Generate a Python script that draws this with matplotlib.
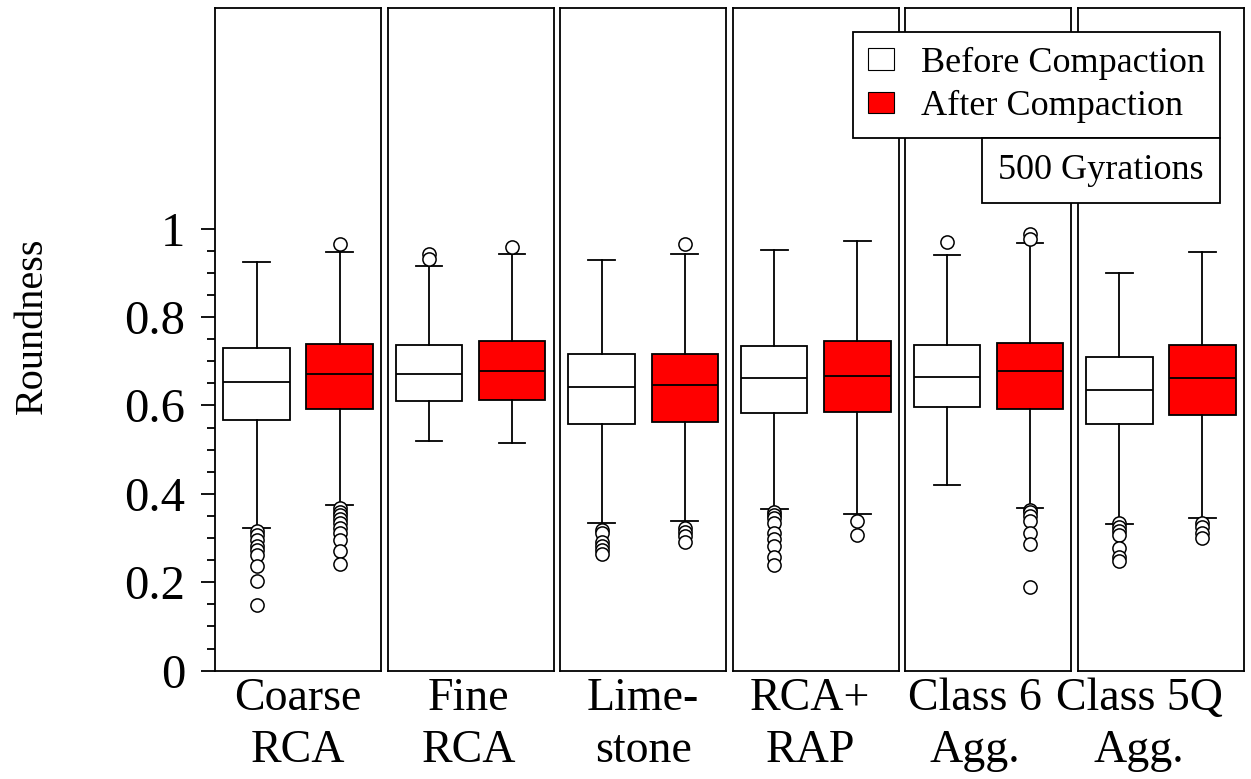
import matplotlib
matplotlib.use("Agg")
import matplotlib.pyplot as plt
from matplotlib.patches import Patch, Rectangle
from matplotlib.ticker import FixedLocator, FixedFormatter

plt.rcParams['font.family'] = ['Liberation Serif', 'DejaVu Serif']

# ---------------- data ----------------
categories = ["Coarse\nRCA", "Fine\nRCA", "Lime-\nstone", "RCA+\nRAP", "Class 6\nAgg.", "Class 5Q\nAgg."]
series_names = ["Before Compaction", "After Compaction"]

before_whislo = [0.322, 0.519, 0.334, 0.365, 0.421, 0.332]
before_q1     = [0.566, 0.610, 0.558, 0.582, 0.596, 0.558]
before_med    = [0.654, 0.671, 0.641, 0.663, 0.665, 0.636]
before_q3     = [0.729, 0.736, 0.717, 0.735, 0.736, 0.709]
before_whishi = [0.925, 0.915, 0.928, 0.951, 0.940, 0.899]
before_fliers = [
    [0.315, 0.307, 0.296, 0.281, 0.273, 0.262, 0.236, 0.202, 0.149],
    [0.943, 0.932],
    [0.319, 0.311, 0.292, 0.282, 0.273, 0.264],
    [0.360, 0.353, 0.345, 0.335, 0.311, 0.298, 0.282, 0.257, 0.238],
    [0.970],
    [0.335, 0.326, 0.317, 0.307, 0.277, 0.258, 0.249],
]

after_whislo = [0.375, 0.514, 0.338, 0.355, 0.368, 0.346]
after_q1     = [0.592, 0.613, 0.563, 0.586, 0.591, 0.578]
after_med    = [0.670, 0.677, 0.646, 0.667, 0.677, 0.661]
after_q3     = [0.738, 0.745, 0.717, 0.745, 0.742, 0.736]
after_whishi = [0.948, 0.943, 0.943, 0.972, 0.967, 0.948]
after_fliers = [
    [0.966, 0.368, 0.360, 0.353, 0.343, 0.334, 0.322, 0.311, 0.296, 0.270, 0.242],
    [0.959],
    [0.966, 0.322, 0.313, 0.304, 0.292],
    [0.338, 0.307],
    [0.987, 0.977, 0.364, 0.358, 0.350, 0.338, 0.311, 0.287, 0.190],
    [0.335, 0.325, 0.311, 0.300],
]

ytick_values = [0, 0.2, 0.4, 0.6, 0.8, 1.0]
ytick_labels = ["0", "0.2", "0.4", "0.6", "0.8", "1"]
annotation = "500 Gyrations"

# ---------------- layout / style ----------------
W, H = 1251, 779
fig = plt.figure(figsize=(W / 100, H / 100), dpi=100)
fig.subplots_adjust(left=215 / W, right=1244 / W, top=1 - 7.5 / H,
                    bottom=1 - 670.7 / H, wspace=6.5 / 166)
axes = fig.subplots(1, 6, sharey=True)

colors = ["white", "#ff0000"]
label_x = [1.0, 0.98, 1.0, 0.93, 0.84, 0.735]
LW = 1.3

for i, ax in enumerate(axes):
    stats = []
    for (lo, q1, med, q3, hi, fl) in [
        (before_whislo[i], before_q1[i], before_med[i], before_q3[i], before_whishi[i], before_fliers[i]),
        (after_whislo[i], after_q1[i], after_med[i], after_q3[i], after_whishi[i], after_fliers[i]),
    ]:
        stats.append(dict(whislo=lo, q1=q1, med=med, q3=q3, whishi=hi, fliers=fl))
    bp = ax.bxp(stats, positions=[0.5, 1.5], widths=0.8, patch_artist=True,
                showfliers=True, capwidths=0.32,
                boxprops=dict(linewidth=LW, edgecolor="black"),
                whiskerprops=dict(linewidth=LW, color="black"),
                capprops=dict(linewidth=LW, color="black"),
                medianprops=dict(linewidth=LW, color="black"),
                flierprops=dict(marker="o", markersize=9.5, markerfacecolor="white",
                                markeredgecolor="black", markeredgewidth=1.1))
    for patch, c in zip(bp["boxes"], colors):
        patch.set_facecolor(c)
    ax.set_xlim(0, 2)
    ax.set_ylim(0, 1.5)
    for sp in ax.spines.values():
        sp.set_linewidth(LW)
        sp.set_color("black")
    ax.set_xticks([label_x[i]])
    ax.set_xticklabels([categories[i]], fontsize=33, linespacing=1.3)
    ax.tick_params(axis="x", length=0, pad=5)
    if i == 0:
        ax.yaxis.set_major_locator(FixedLocator(ytick_values))
        ax.yaxis.set_major_formatter(FixedFormatter(ytick_labels))
        ax.yaxis.set_minor_locator(FixedLocator([k * 0.05 for k in range(21)]))
        ax.tick_params(axis="y", which="major", length=10.3, width=LW, labelsize=35, pad=11)
        ax.tick_params(axis="y", which="minor", length=5.5, width=LW)
    else:
        ax.tick_params(axis="y", which="both", left=False, labelleft=False)

fig.text(32 / W, 1 - 326 / H, "Roundness", rotation=90, ha="center", va="center", fontsize=29)

handles = [Patch(facecolor=c, edgecolor="black", linewidth=0.8) for c in colors]
leg = fig.legend(handles, series_names, loc="upper right",
                 bbox_to_anchor=(1220 / W, 1 - 31.7 / H), fontsize=26,
                 frameon=True, fancybox=False, framealpha=1, edgecolor="black",
                 handlelength=0.72, handleheight=0.55, handletextpad=0.75,
                 borderpad=0.42, labelspacing=0.28, borderaxespad=0)
leg.get_frame().set_linewidth(LW)

x0, x1, y0, y1 = 981.7, 1220, 138.3, 203.3
rect = Rectangle((x0 / W, 1 - y1 / H), (x1 - x0) / W, (y1 - y0) / H,
                 transform=fig.transFigure, facecolor="white", edgecolor="black",
                 linewidth=LW, zorder=6)
fig.add_artist(rect)
fig.text((x0 + x1) / 2 / W, 1 - (y0 + y1) / 2 / H, annotation, ha="center", va="center",
         fontsize=26, zorder=7)

fig.savefig("out.png", dpi=100)
